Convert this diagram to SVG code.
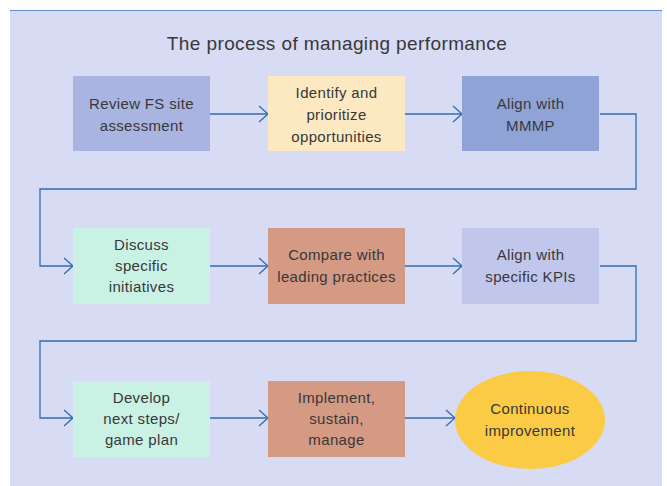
<svg xmlns="http://www.w3.org/2000/svg" width="667" height="486" viewBox="0 0 667 486">
<style>
.t{font-family:"Liberation Sans",Arial,sans-serif;font-size:15px;letter-spacing:0.35px;fill:#383838;text-anchor:middle}
.ti{font-family:"Liberation Sans",Arial,sans-serif;font-size:19px;letter-spacing:0.4px;fill:#383838;text-anchor:middle}
.c{fill:none;stroke:#2f6db5;stroke-width:1.3}
</style>
<defs>
<marker id="ah" markerUnits="userSpaceOnUse" markerWidth="13" markerHeight="18" refX="10" refY="9" orient="auto">
<path d="M1,1 L10,9 L1,17" fill="none" stroke="#2f6db5" stroke-width="1.3"/>
</marker>
</defs>
<rect x="0" y="0" width="667" height="486" fill="#fff"/>
<rect x="10" y="10" width="652" height="476" fill="#d7dbf4"/>
<line x1="10" y1="10.5" x2="662" y2="10.5" stroke="#5b8fd0" stroke-width="1.2"/>
<text class="ti" x="337" y="50">The process of managing performance</text>
<g id="connectors">
<path class="c" d="M210,114 H268" marker-end="url(#ah)"/>
<path class="c" d="M405,114 H462" marker-end="url(#ah)"/>
<path class="c" d="M600,114 H636 V189 H40 V266 H73" marker-end="url(#ah)"/>
<path class="c" d="M210,266 H268" marker-end="url(#ah)"/>
<path class="c" d="M405,266 H462" marker-end="url(#ah)"/>
<path class="c" d="M600,266 H636 V341 H40 V418 H73" marker-end="url(#ah)"/>
<path class="c" d="M210,418 H268" marker-end="url(#ah)"/>
<path class="c" d="M405,418 H455" marker-end="url(#ah)"/>
</g>
<g id="n1"><rect x="73" y="76" width="137" height="75" fill="#aab4e1"/>
<text class="t" x="141.5" y="109">Review FS site</text><text class="t" x="141.5" y="131">assessment</text></g>
<g id="n2"><rect x="268" y="76" width="137" height="75" fill="#fde9c1"/>
<text class="t" x="336.5" y="98">Identify and</text><text class="t" x="336.5" y="120">prioritize</text><text class="t" x="336.5" y="142">opportunities</text></g>
<g id="n3"><rect x="462" y="76" width="137" height="75" fill="#8fa3d7"/>
<text class="t" x="530.5" y="109">Align with</text><text class="t" x="530.5" y="131">MMMP</text></g>
<g id="n4"><rect x="73" y="228" width="137" height="76" fill="#c9f1e4"/>
<text class="t" x="141.5" y="250">Discuss</text><text class="t" x="141.5" y="271">specific</text><text class="t" x="141.5" y="292">initiatives</text></g>
<g id="n5"><rect x="268" y="228" width="137" height="76" fill="#d49a84"/>
<text class="t" x="336.5" y="260">Compare with</text><text class="t" x="336.5" y="282">leading practices</text></g>
<g id="n6"><rect x="462" y="228" width="137" height="76" fill="#c1c6ec"/>
<text class="t" x="530.5" y="260">Align with</text><text class="t" x="530.5" y="282">specific KPIs</text></g>
<g id="n7"><rect x="73" y="381" width="137" height="76" fill="#c9f1e4"/>
<text class="t" x="141.5" y="403">Develop</text><text class="t" x="141.5" y="424">next steps/</text><text class="t" x="141.5" y="445">game plan</text></g>
<g id="n8"><rect x="268" y="381" width="137" height="76" fill="#d49a84"/>
<text class="t" x="336.5" y="403">Implement,</text><text class="t" x="336.5" y="424">sustain,</text><text class="t" x="336.5" y="445">manage</text></g>
<g id="n9"><ellipse cx="530" cy="420" rx="75" ry="49" fill="#fccb46"/>
<text class="t" x="530" y="414">Continuous</text><text class="t" x="530" y="436">improvement</text></g>
</svg>
